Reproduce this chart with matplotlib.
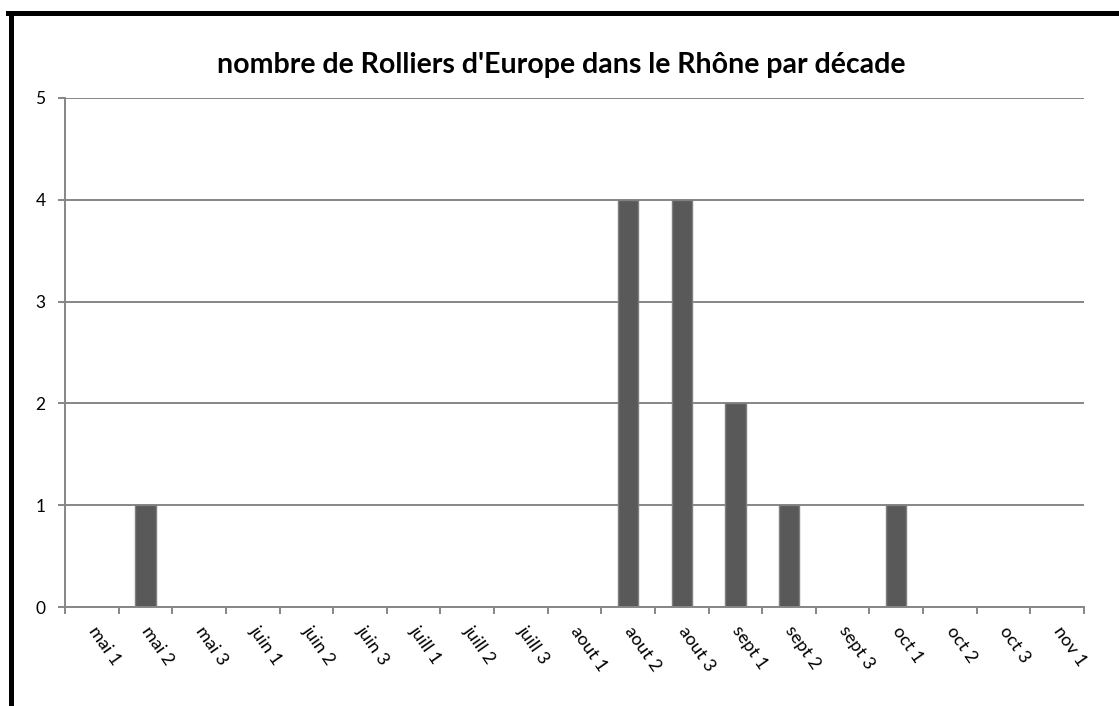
import numpy as np
import matplotlib.pyplot as plt
from matplotlib.lines import Line2D

categories = ["mai 1", "mai 2", "mai 3", "juin 1", "juin 2", "juin 3",
              "juill 1", "juill 2", "juill 3", "aout 1", "aout 2", "aout 3",
              "sept 1", "sept 2", "sept 3", "oct 1", "oct 2", "oct 3", "nov 1"]
counts = [0, 1, 0, 0, 0, 0, 0, 0, 0, 0, 4, 4, 2, 1, 0, 1, 0, 0, 0]
yticks = [0, 1, 2, 3, 4, 5]

plt.rcParams['font.family'] = ['Lato', 'DejaVu Sans']
W, H = 1119, 706
fig = plt.figure(figsize=(W / 100, H / 100), dpi=100)
ax = fig.add_axes([65 / W, 1 - 607 / H, (1084 - 65) / W, (607 - 98) / H])

grey = '#868686'
x = np.arange(len(categories))
ax.bar(x, counts, width=0.38, color='#595959', edgecolor='#7f7f7f',
       linewidth=1, zorder=3)

ax.set_xlim(-0.5, len(categories) - 0.5)
ax.set_ylim(0, 5)
ax.set_yticks(yticks)
ax.yaxis.grid(True, color=grey, linewidth=1.4, zorder=0)

for s in ['top', 'right']:
    ax.spines[s].set_visible(False)
for s in ['left', 'bottom']:
    ax.spines[s].set_color(grey)
    ax.spines[s].set_linewidth(1.4)
    ax.spines[s].set_zorder(4)

ax.tick_params(axis='y', direction='out', length=5, color=grey, width=1.4,
               labelsize=12.5, pad=9)
ax.set_xticks(np.arange(-0.5, len(categories), 1.0), minor=True)
ax.set_xticks(x)
ax.tick_params(axis='x', which='minor', direction='out', length=5,
               color=grey, width=1.4)
ax.tick_params(axis='x', which='major', length=0, pad=15)
ax.set_xticklabels(categories, rotation=-55, ha='left', va='center',
                   rotation_mode='anchor', fontsize=13)

fig.text(0.502, 1 - 65 / H, "nombre de Rolliers d'Europe dans le Rhône par décade",
         ha='center', va='center', fontsize=20.5, fontweight='bold')

# outer frame (only top and left edges are visible)
fig.add_artist(Line2D([10.5 / W, 10.5 / W], [0, 1 - 12.5 / H], color='black',
                      linewidth=3.6, transform=fig.transFigure))
fig.add_artist(Line2D([8 / W, 1], [1 - 12.5 / H, 1 - 12.5 / H], color='black',
                      linewidth=3.6, transform=fig.transFigure))

fig.savefig('out.png', dpi=100)
